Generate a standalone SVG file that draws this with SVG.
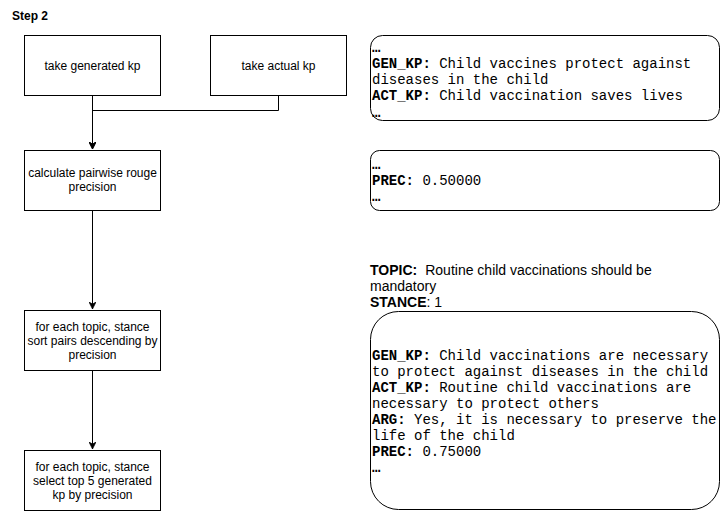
<svg xmlns="http://www.w3.org/2000/svg" width="721" height="511" viewBox="0 0 721 511">
<style>
.box{fill:#fff;stroke:#000;stroke-width:1}
.lbl{font-family:"Liberation Sans",Arial,sans-serif;font-size:12px;fill:#000;text-anchor:middle}
.mono{font-family:"Liberation Mono","Courier New",monospace;font-size:14px;fill:#000}
.b{font-weight:bold}
.sans{font-family:"Liberation Sans",Arial,sans-serif;font-size:14px;fill:#000}
.edge{fill:none;stroke:#000;stroke-width:1}
</style>
<defs>
<marker id="arr" viewBox="0 0 10 10" refX="10" refY="5" markerWidth="7" markerHeight="7" markerUnits="userSpaceOnUse" orient="auto">
<path d="M0,0 L10,5 L0,10 L3,5 Z" fill="#000" stroke="#000"/>
</marker>
</defs>
<rect width="721" height="511" fill="#fff"/>
<text x="12" y="20" font-family="'Liberation Sans',Arial,sans-serif" font-size="12" font-weight="bold">Step 2</text>

<g id="connectors">
<path class="edge" d="M92.5,96 L92.5,149" marker-end="url(#arr)"/>
<path class="edge" d="M278.5,96 L278.5,110.5 L92.5,110.5 L92.5,149" marker-end="url(#arr)"/>
<path class="edge" d="M92.5,210 L92.5,309" marker-end="url(#arr)"/>
<path class="edge" d="M92.5,370 L92.5,449" marker-end="url(#arr)"/>
</g>

<g id="n1">
<rect class="box" x="24.5" y="35.5" width="136" height="60"/>
<text class="lbl" x="92.5" y="70">take generated kp</text>
</g>
<g id="n2">
<rect class="box" x="210.5" y="35.5" width="136" height="60"/>
<text class="lbl" x="278.5" y="70">take actual kp</text>
</g>
<g id="n3">
<rect class="box" x="24.5" y="150.5" width="136" height="60"/>
<text class="lbl" x="92.5" y="177">calculate pairwise rouge</text>
<text class="lbl" x="92.5" y="191">precision</text>
</g>
<g id="n4">
<rect class="box" x="24.5" y="310.5" width="136" height="60"/>
<text class="lbl" x="92.5" y="331">for each topic, stance</text>
<text class="lbl" x="92.5" y="345">sort pairs descending by</text>
<text class="lbl" x="92.5" y="359">precision</text>
</g>
<g id="n5">
<rect class="box" x="24.5" y="450.5" width="136" height="60"/>
<text class="lbl" x="92.5" y="471">for each topic, stance</text>
<text class="lbl" x="92.5" y="485">select top 5 generated</text>
<text class="lbl" x="92.5" y="499">kp by precision</text>
</g>

<g id="noteA">
<rect class="box" x="370.5" y="35.5" width="349" height="85" rx="12" ry="12"/>
<text class="mono b" x="372" y="52">…</text>
<text class="mono" x="372" y="68"><tspan class="b">GEN_KP:</tspan> Child vaccines protect against</text>
<text class="mono" x="372" y="84">diseases in the child</text>
<text class="mono" x="372" y="100"><tspan class="b">ACT_KP:</tspan> Child vaccination saves lives</text>
<text class="mono b" x="372" y="117">…</text>
</g>
<g id="noteB">
<rect class="box" x="370.5" y="150.5" width="349" height="60" rx="9" ry="9"/>
<text class="mono b" x="372" y="169">…</text>
<text class="mono" x="372" y="185"><tspan class="b">PREC:</tspan> 0.50000</text>
<text class="mono b" x="372" y="201">…</text>
</g>
<g id="topic">
<text class="sans" x="370" y="275"><tspan class="b">TOPIC:</tspan><tspan dx="8">Routine child vaccinations should be</tspan></text>
<text class="sans" x="370" y="291">mandatory</text>
<text class="sans" x="370" y="307"><tspan class="b">STANCE</tspan>: 1</text>
</g>
<g id="noteC">
<rect class="box" x="370.5" y="311.5" width="349" height="198" rx="28" ry="28"/>
<text class="mono" x="372" y="360"><tspan class="b">GEN_KP:</tspan> Child vaccinations are necessary</text>
<text class="mono" x="372" y="376">to protect against diseases in the child</text>
<text class="mono" x="372" y="392"><tspan class="b">ACT_KP:</tspan> Routine child vaccinations are</text>
<text class="mono" x="372" y="408">necessary to protect others</text>
<text class="mono" x="372" y="424"><tspan class="b">ARG:</tspan> Yes, it is necessary to preserve the</text>
<text class="mono" x="372" y="440">life of the child</text>
<text class="mono" x="372" y="456"><tspan class="b">PREC:</tspan> 0.75000</text>
<text class="mono b" x="372" y="472">…</text>
</g>
</svg>
